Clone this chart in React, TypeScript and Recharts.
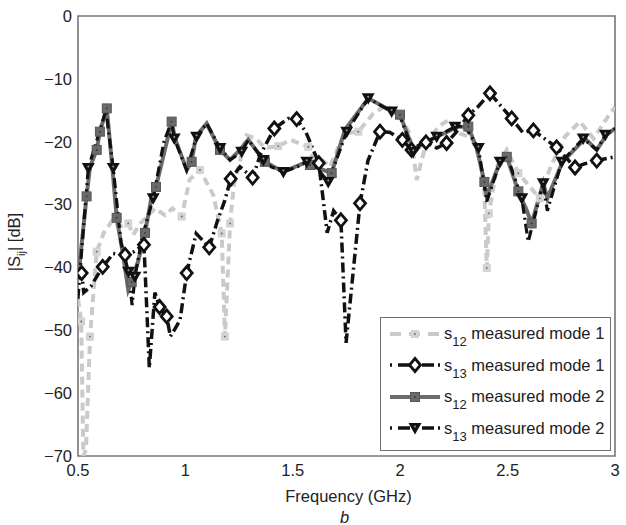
import React from "react";
import { LineChart, Line, XAxis, YAxis, ReferenceArea, Legend } from "recharts";

const xTicks = [0.5, 1, 1.5, 2, 2.5, 3];
const yTicks = [0, -10, -20, -30, -40, -50, -60, -70];

// s12 measured mode 1 (light grey, dashed, small squares)
const s12m1Freq = [0.5, 0.515, 0.525, 0.537, 0.556, 0.587, 0.62, 0.66, 0.695, 0.734, 0.757, 0.79, 0.82, 0.858, 0.905, 0.94, 0.983, 1.02, 1.068, 1.13, 1.169, 1.184, 1.208, 1.225, 1.285, 1.33, 1.37, 1.432, 1.49, 1.572, 1.6, 1.64, 1.673, 1.7, 1.74, 1.805, 1.875, 1.937, 1.99, 2.04, 2.065, 2.077, 2.12, 2.18, 2.224, 2.278, 2.33, 2.37, 2.392, 2.403, 2.413, 2.45, 2.496, 2.55, 2.6, 2.65, 2.7, 2.767, 2.837, 2.9, 2.977, 3.0];
const s12m1Db = [-45, -48.6, -70, -69, -51, -37.5, -34.5, -32.5, -33.5, -33, -34.8, -33, -32, -30.6, -31.7, -30.6, -31.9, -26, -24.5, -28.5, -34.6, -51, -33, -27, -19, -19.5, -21, -20.7, -19.7, -20.8, -22.9, -23, -24, -21.8, -18.7, -18.4, -15.5, -14.2, -15.6, -18.4, -22.9, -26.1, -20.3, -17.5, -16.6, -18.7, -19.3, -22.5, -28, -40.1, -31.4, -24, -21.3, -25, -27, -29, -24, -19.2, -16.8, -19.5, -15.5, -14.5];
const s12m1Marks = [0.515, 0.556, 0.587, 0.734, 0.983, 1.068, 1.169, 1.184, 1.208, 1.432, 1.572, 1.805, 2.403, 2.413, 2.55, 2.65];

// s13 measured mode 1 (black dash-dot, diamonds)
const s13m1Freq = [0.5, 0.517, 0.527, 0.56, 0.615, 0.664, 0.719, 0.76, 0.807, 0.822, 0.832, 0.858, 0.88, 0.913, 0.93, 0.975, 1.006, 1.05, 1.111, 1.15, 1.184, 1.211, 1.254, 1.313, 1.35, 1.414, 1.479, 1.518, 1.56, 1.621, 1.66, 1.69, 1.724, 1.748, 1.813, 1.85, 1.906, 1.95, 2.01, 2.053, 2.09, 2.12, 2.17, 2.216, 2.26, 2.317, 2.36, 2.418, 2.519, 2.57, 2.62, 2.728, 2.814, 2.86, 2.915, 3.0];
const s13m1Db = [-41.5, -40.9, -44, -43, -39.9, -37.8, -38, -37.5, -36.4, -48, -56, -44, -46.3, -47.8, -51, -48.4, -40.9, -34.6, -36.8, -32.5, -29.3, -25.9, -24, -25.7, -22, -17.9, -16.3, -16.4, -18.4, -23.4, -34.5, -31, -32.5, -52, -29.8, -23, -18.4, -18.5, -19.7, -21.3, -20.5, -20.1, -21, -20.2, -18.5, -15.8, -14.5, -12.3, -16.3, -18.5, -18.2, -20.9, -24.1, -23.5, -23, -22.4];
const s13m1Marks = [0.517, 0.615, 0.719, 0.807, 0.88, 0.913, 1.006, 1.111, 1.211, 1.313, 1.414, 1.518, 1.621, 1.724, 1.813, 1.906, 2.01, 2.053, 2.12, 2.216, 2.317, 2.418, 2.519, 2.62, 2.728, 2.814, 2.915];

// s12 measured mode 2 (dark grey, solid, squares)
const s12m2Freq = [0.5, 0.54, 0.556, 0.587, 0.602, 0.634, 0.661, 0.68, 0.71, 0.734, 0.75, 0.78, 0.812, 0.843, 0.863, 0.936, 0.952, 1.006, 1.029, 1.049, 1.099, 1.161, 1.208, 1.254, 1.293, 1.37, 1.456, 1.565, 1.58, 1.681, 1.743, 1.852, 1.952, 1.999, 2.061, 2.123, 2.17, 2.27, 2.317, 2.356, 2.392, 2.403, 2.465, 2.496, 2.55, 2.59, 2.612, 2.666, 2.685, 2.756, 2.86, 2.915, 2.961, 3.0];
const s12m2Db = [-42, -28.7, -24, -21.3, -18.4, -14.7, -24.5, -32.1, -38, -43.6, -42.3, -39, -34.5, -28.7, -27.2, -16.8, -19.5, -24.5, -23.2, -19.2, -17.1, -21.3, -22.9, -21.3, -19.7, -23.2, -24.8, -23.2, -23.7, -25, -18.1, -13.1, -15, -15.7, -21.3, -20, -19.2, -17.6, -17.6, -21, -26.4, -28.7, -23.2, -22.4, -27.9, -31, -33, -26.6, -29, -23.2, -19.5, -21.3, -18.9, -17.9];
const s12m2Marks = [0.54, 0.587, 0.602, 0.634, 0.68, 0.75, 0.812, 0.863, 0.936, 1.029, 1.161, 1.37, 1.58, 1.681, 1.999, 2.317, 2.392, 2.496, 2.55, 2.612];

// s13 measured mode 2 (black dash-dot, down triangles)
const s13m2Freq = [0.5, 0.52, 0.548, 0.6, 0.63, 0.664, 0.7, 0.735, 0.752, 0.765, 0.8, 0.85, 0.9, 0.936, 0.948, 1.006, 1.052, 1.099, 1.161, 1.208, 1.262, 1.293, 1.363, 1.4, 1.456, 1.52, 1.565, 1.62, 1.665, 1.751, 1.851, 1.96, 2.0, 2.061, 2.123, 2.17, 2.255, 2.3, 2.364, 2.403, 2.465, 2.5, 2.566, 2.596, 2.666, 2.685, 2.752, 2.852, 2.915, 2.955, 3.0];
const s13m2Db = [-45, -36, -24.2, -18.4, -15, -24.2, -36, -40.7, -46, -41.5, -35, -29, -20, -16.8, -19.5, -24.5, -19.2, -17.1, -21, -22.9, -21.6, -19.7, -22.9, -24, -24.8, -24, -23.2, -24.5, -26.4, -18.4, -13.1, -15.2, -16, -21.6, -20, -19.2, -17.6, -17.5, -21, -29.5, -23.2, -22.5, -29, -35.9, -26.6, -31, -23.2, -19.5, -21.3, -18.9, -17.9];
const s13m2Marks = [0.548, 0.664, 0.735, 0.765, 0.85, 0.948, 1.052, 1.161, 1.262, 1.363, 1.456, 1.565, 1.665, 1.751, 1.851, 1.96, 2.061, 2.17, 2.255, 2.364, 2.465, 2.566, 2.666, 2.752, 2.852, 2.955];

const FONT = '"Liberation Sans", Arial, Helvetica, sans-serif';
const TEXT = "#222222";
const LIGHT = "#cacaca";
const DARK = "#6c6c6c";
const BLACK = "#111111";
const DASHDOT = "10 4 2 4";

type Shape = "lightSquare" | "darkSquare" | "diamond" | "triangle";

const toPoints = (freq: number[], db: number[]) => freq.map((f, i) => ({ f, db: db[i] }));

function Marker({ shape, x, y }: { shape: Shape; x: number; y: number }) {
  if (shape === "lightSquare") {
    return (
      <g>
        <rect x={x - 4} y={y - 4} width={8} height={8} fill="#d3d3d3" />
        <circle cx={x} cy={y} r={0.9} fill="#666" />
      </g>
    );
  }
  if (shape === "darkSquare") {
    return (
      <g>
        <rect x={x - 4.5} y={y - 4.5} width={9} height={9} fill="#6a6a6a" stroke="#575757" strokeWidth={1} />
        <circle cx={x} cy={y} r={0.9} fill="#333" />
      </g>
    );
  }
  if (shape === "diamond") {
    return (
      <path
        d={`M${x},${y - 6.5} L${x + 5.5},${y} L${x},${y + 6.5} L${x - 5.5},${y} Z`}
        fill="#fff"
        stroke={BLACK}
        strokeWidth={2.8}
      />
    );
  }
  return (
    <g>
      <path d={`M${x - 6.5},${y - 5} L${x + 6.5},${y - 5} L${x},${y + 6.5} Z`} fill={BLACK} />
      <circle cx={x} cy={y - 1.5} r={1} fill="#999" />
    </g>
  );
}

const makeDot = (shape: Shape, marks: number[]) => (props: any) => {
  const { cx, cy, payload, index } = props;
  if (cx == null || cy == null || !marks.includes(payload.f)) {
    return <g key={`${shape}-${index}`} />;
  }
  return (
    <g key={`${shape}-${index}`}>
      <Marker shape={shape} x={cx} y={cy} />
    </g>
  );
};

const legendRows: { sub: string; mode: number; shape: Shape; color: string; width: number; dash?: string }[] = [
  { sub: "12", mode: 1, shape: "lightSquare", color: LIGHT, width: 4, dash: "11 8" },
  { sub: "13", mode: 1, shape: "diamond", color: BLACK, width: 3.5, dash: "2 6 12 30" },
  { sub: "12", mode: 2, shape: "darkSquare", color: DARK, width: 4 },
  { sub: "13", mode: 2, shape: "triangle", color: BLACK, width: 3.5, dash: "2 6 12 30" },
];

function renderLegend() {
  return (
    <div
      style={{
        width: 231,
        height: 134,
        boxSizing: "border-box",
        border: "1.5px solid #6f6f6f",
        background: "#fff",
        fontFamily: FONT,
        fontSize: 16.5,
        color: TEXT,
        paddingTop: 0,
      }}
    >
      {legendRows.map((r, i) => (
        <div key={i} style={{ display: "flex", alignItems: "center", height: 31.5 }}>
          <svg width={63} height={20} style={{ flex: "none" }}>
            <line
              x1={9}
              x2={59}
              y1={10}
              y2={10}
              stroke={r.color}
              strokeWidth={r.width}
              strokeDasharray={r.dash}
            />
            {r.dash && r.shape !== "lightSquare" && (
              <line x1={41} x2={53} y1={10} y2={10} stroke={r.color} strokeWidth={r.width} />
            )}
            {r.dash && r.shape !== "lightSquare" && (
              <line x1={57} x2={59} y1={10} y2={10} stroke={r.color} strokeWidth={r.width} />
            )}
            <Marker shape={r.shape} x={34} y={10} />
          </svg>
          <span style={{ whiteSpace: "nowrap", marginLeft: 0 }}>
            s<span style={{ fontSize: 13, position: "relative", top: 7 }}>{r.sub}</span> measured mode {r.mode}
          </span>
        </div>
      ))}
    </div>
  );
}

const xLabels = (props: any) => {
  const { x, y, width } = props.viewBox;
  const cx = x + width / 2;
  return (
    <g>
      <text x={cx + 2} y={y + 46} textAnchor="middle" fontFamily={FONT} fontSize={16.5} fill={TEXT}>
        Frequency (GHz)
      </text>
      <text x={cx - 2} y={y + 67} textAnchor="middle" fontFamily={FONT} fontSize={16.5} fontStyle="italic" fill={TEXT}>
        b
      </text>
    </g>
  );
};

const yLabel = (props: any) => {
  const { y, height } = props.viewBox;
  const cy = y + height / 2 + 6;
  return (
    <text
      x={20}
      y={cy}
      transform={`rotate(-90, 20, ${cy})`}
      textAnchor="middle"
      fontFamily={FONT}
      fontSize={16.5}
      fill={TEXT}
    >
      |S<tspan fontSize={11} dy={5}>ij</tspan>
      <tspan dy={-5}>| [dB]</tspan>
    </text>
  );
};

const fmtY = (v: number) => (v < 0 ? `\u2212${-v}` : `${v}`);

export default function App() {
  return (
    <div style={{ position: "absolute", left: 0, top: 0, width: 626, height: 525, background: "#fff" }}>
      <LineChart width={626} height={525} margin={{ top: 16, right: 11, bottom: 39, left: 18 }}>
        <XAxis
          dataKey="f"
          type="number"
          domain={[0.5, 3]}
          ticks={xTicks}
          interval={0}
          height={30}
          axisLine={false}
          tickLine={false}
          tickSize={6}
          tickMargin={2}
          allowDataOverflow
          tick={{ fill: TEXT, fontSize: 16.5, fontFamily: FONT }}
          label={xLabels}
        />
        <YAxis
          type="number"
          domain={[-70, 0]}
          ticks={yTicks}
          interval={0}
          width={60}
          axisLine={false}
          tickLine={false}
          tickSize={4}
          tickMargin={2}
          allowDataOverflow
          tickFormatter={fmtY}
          tick={{ fill: TEXT, fontSize: 16.5, fontFamily: FONT }}
          label={yLabel}
        />
        <ReferenceArea x1={0.5} x2={3} y1={-70} y2={0} fill="none" stroke="#767676" strokeWidth={1.6} />
        <Line
          data={toPoints(s12m1Freq, s12m1Db)}
          dataKey="db"
          type="linear"
          stroke={LIGHT}
          strokeWidth={4}
          strokeDasharray="8 5"
          dot={makeDot("lightSquare", s12m1Marks)}
          activeDot={false}
          isAnimationActive={false}
        />
        <Line
          data={toPoints(s12m2Freq, s12m2Db)}
          dataKey="db"
          type="linear"
          stroke={DARK}
          strokeWidth={4}
          dot={makeDot("darkSquare", s12m2Marks)}
          activeDot={false}
          isAnimationActive={false}
        />
        <Line
          data={toPoints(s13m1Freq, s13m1Db)}
          dataKey="db"
          type="linear"
          stroke={BLACK}
          strokeWidth={3.5}
          strokeDasharray={DASHDOT}
          dot={makeDot("diamond", s13m1Marks)}
          activeDot={false}
          isAnimationActive={false}
        />
        <Line
          data={toPoints(s13m2Freq, s13m2Db)}
          dataKey="db"
          type="linear"
          stroke={BLACK}
          strokeWidth={3.2}
          strokeDasharray={DASHDOT}
          dot={makeDot("triangle", s13m2Marks)}
          activeDot={false}
          isAnimationActive={false}
        />
        <Legend
          layout="vertical"
          align="center"
          verticalAlign="middle"
          content={renderLegend}
          wrapperStyle={{ left: 380, top: 317, width: 231, height: 134 }}
        />
      </LineChart>
    </div>
  );
}
